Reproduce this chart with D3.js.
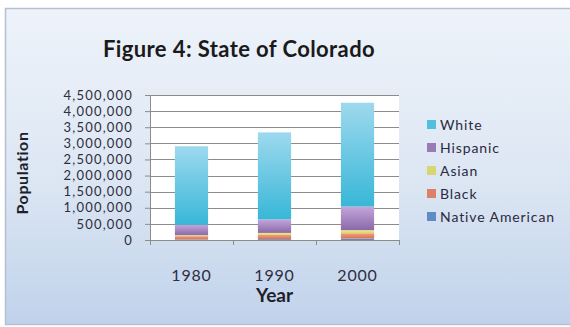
<!DOCTYPE html>
<html>
<head>
<meta charset="utf-8">
<script src="https://cdn.jsdelivr.net/npm/d3@7"></script>
<style>
  html, body { margin: 0; padding: 0; background: #ffffff; }
  svg { display: block; }
</style>
</head>
<body>
<svg id="chart" width="570" height="327"></svg>
<script>
// Colorado population by group, census years
const years = ["1980", "1990", "2000"];
const groups = ["Native American", "Black", "Asian", "Hispanic", "White"];
const nativeAmerican = [20000, 28000, 44000];
const black = [100000, 132000, 165000];
const asian = [30000, 60000, 95000];
const hispanic = [320000, 420000, 735000];
const white = [2440000, 2700000, 3220000];
const yTicks = [0, 500000, 1000000, 1500000, 2000000, 2500000, 3000000, 3500000, 4000000, 4500000];

const seriesValues = {
  "Native American": nativeAmerican,
  "Black": black,
  "Asian": asian,
  "Hispanic": hispanic,
  "White": white
};

const rows = years.map((y, i) => {
  const r = { year: y };
  groups.forEach(g => { r[g] = seriesValues[g][i]; });
  return r;
});

const colors = {
  "White": ["#9ed9ee", "#38b7d7"],
  "Hispanic": ["#c3a6da", "#8c68a9"],
  "Asian": ["#eef08a", "#d6d25c"],
  "Black": ["#f0a080", "#dc6f50"],
  "Native American": ["#7ea6d8", "#4a7dbc"]
};

const FONT = "Lato, 'Open Sans', sans-serif";
const svg = d3.select("#chart");
const W = 570, H = 327;
const defs = svg.append("defs");

// chart-area background gradient
const bg = defs.append("linearGradient").attr("id", "bg")
  .attr("x1", 0).attr("y1", 0).attr("x2", 0).attr("y2", 1);
bg.append("stop").attr("offset", "0%").attr("stop-color", "#eef3fa");
bg.append("stop").attr("offset", "55%").attr("stop-color", "#dce6f3");
bg.append("stop").attr("offset", "100%").attr("stop-color", "#c0d2eb");

groups.forEach((g, i) => {
  const lg = defs.append("linearGradient").attr("id", "grad" + i)
    .attr("x1", 0).attr("y1", 0).attr("x2", 0).attr("y2", 1);
  lg.append("stop").attr("offset", "0%").attr("stop-color", colors[g][0]);
  lg.append("stop").attr("offset", "100%").attr("stop-color", colors[g][1]);
});

svg.append("rect")
  .attr("x", 5.5).attr("y", 8.5).attr("width", 570).attr("height", 316)
  .attr("fill", "url(#bg)").attr("stroke", "#b4c0d2").attr("stroke-width", 1.5);

const margin = { left: 150, right: 171, top: 95, bottom: 87 };
const plotW = W - margin.left - margin.right;   // 249
const plotH = H - margin.top - margin.bottom;    // 145

const x = d3.scaleBand().domain(years).range([margin.left, margin.left + plotW]).paddingInner(0.6).paddingOuter(0.3);
const xOuter = d3.scaleBand().domain(years).range([margin.left, margin.left + plotW]);
const y = d3.scaleLinear().domain([0, 4500000]).range([margin.top + plotH, margin.top]);

// plot area
svg.append("rect")
  .attr("x", margin.left).attr("y", margin.top)
  .attr("width", plotW).attr("height", plotH)
  .attr("fill", "#ffffff");

// gridlines
svg.append("g")
  .selectAll("line").data(yTicks.slice(1)).join("line")
  .attr("x1", margin.left).attr("x2", margin.left + plotW)
  .attr("y1", d => Math.round(y(d)) + 0.5).attr("y2", d => Math.round(y(d)) + 0.5)
  .attr("stroke", "#8c8c8c").attr("stroke-width", 1);

// y axis
const yAxis = d3.axisLeft(y).tickValues(yTicks).tickSize(5).tickPadding(12)
  .tickFormat(d3.format(","));
const gy = svg.append("g").attr("transform", `translate(${margin.left},0)`).call(yAxis);
gy.select(".domain").attr("stroke", "#8c8c8c");
gy.selectAll(".tick line").attr("stroke", "#8c8c8c");
gy.selectAll(".tick text")
  .attr("font-family", FONT).attr("font-size", 13).attr("letter-spacing", 1.2)
  .attr("fill", "#2e2e3e");

// stacked bars
const stack = d3.stack().keys(groups);
const layers = stack(rows);
svg.append("g").selectAll("g").data(layers).join("g")
  .attr("fill", (d, i) => `url(#grad${i})`)
  .selectAll("rect").data(d => d).join("rect")
  .attr("x", d => x(d.data.year))
  .attr("width", x.bandwidth())
  .attr("y", d => y(d[1]))
  .attr("height", d => y(d[0]) - y(d[1]));

// x axis
const xAxisY = margin.top + plotH;
svg.append("line")
  .attr("x1", margin.left).attr("x2", margin.left + plotW)
  .attr("y1", xAxisY + 0.5).attr("y2", xAxisY + 0.5)
  .attr("stroke", "#8c8c8c");
const bounds = years.map(yy => xOuter(yy)).concat([margin.left + plotW]);
svg.append("g").selectAll("line").data(bounds).join("line")
  .attr("x1", d => Math.round(d) + 0.5).attr("x2", d => Math.round(d) + 0.5)
  .attr("y1", xAxisY).attr("y2", xAxisY + 5)
  .attr("stroke", "#8c8c8c");
svg.append("g").selectAll("text").data(years).join("text")
  .attr("x", d => xOuter(d) + xOuter.bandwidth() / 2)
  .attr("y", 281)
  .attr("text-anchor", "middle")
  .attr("font-family", FONT).attr("font-size", 16).attr("letter-spacing", 0.8)
  .attr("fill", "#2e2e3e")
  .text(d => d);

// axis titles
svg.append("text")
  .attr("x", xOuter("1990") + xOuter.bandwidth() / 2).attr("y", 302)
  .attr("text-anchor", "middle")
  .attr("font-family", FONT).attr("font-size", 19).attr("font-weight", "bold")
  .attr("fill", "#1e1e2a")
  .text("Year");
svg.append("text")
  .attr("transform", "translate(28,173) rotate(-90)")
  .attr("text-anchor", "middle")
  .attr("font-family", FONT).attr("font-size", 16).attr("font-weight", "bold")
  .attr("letter-spacing", 0.6)
  .attr("fill", "#1e1e2a")
  .text("Population");

// title
svg.append("text")
  .attr("x", 239).attr("y", 57)
  .attr("text-anchor", "middle")
  .attr("font-family", FONT).attr("font-size", 22).attr("font-weight", "bold")
  .attr("letter-spacing", 0.4)
  .attr("fill", "#1a1a1a")
  .text("Figure 4: State of Colorado");

// legend (top to bottom in reverse stacking order)
const legendGroups = groups.slice().reverse();
const lg = svg.append("g").selectAll("g").data(legendGroups).join("g")
  .attr("transform", (d, i) => `translate(427,${125 + i * 23})`);
lg.append("rect")
  .attr("x", 0).attr("y", -5).attr("width", 9).attr("height", 9)
  .attr("fill", d => colors[d][1]).attr("opacity", 0.85);
lg.append("text")
  .attr("x", 13).attr("y", 5)
  .attr("font-family", FONT).attr("font-size", 14).attr("letter-spacing", 0.9)
  .attr("fill", "#2a2a3e")
  .text(d => d);
</script>
</body>
</html>
